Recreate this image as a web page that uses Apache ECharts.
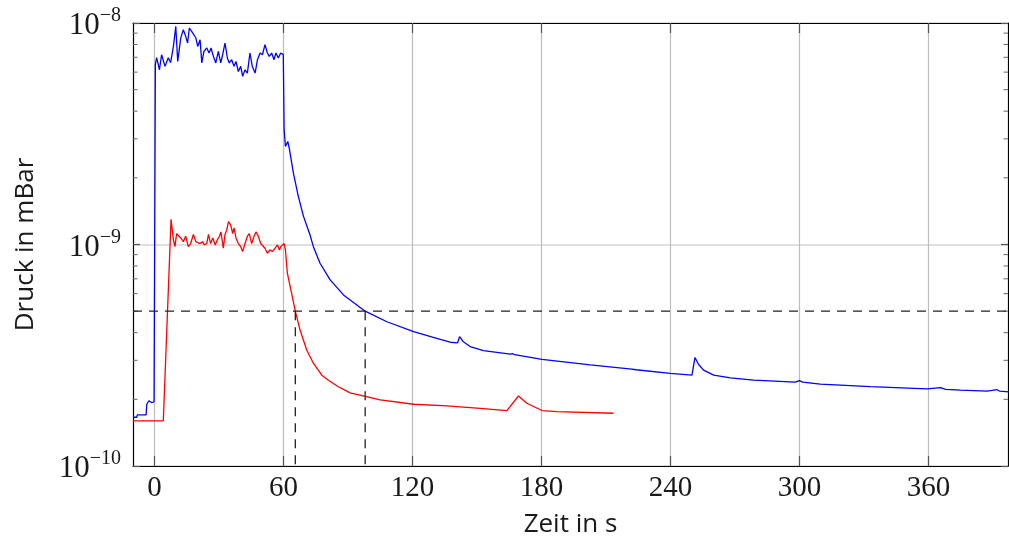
<!DOCTYPE html>
<html>
<head>
<meta charset="utf-8">
<script src="https://cdn.jsdelivr.net/npm/echarts@6/dist/echarts.min.js"></script>
<style>
  html, body { margin: 0; padding: 0; background: #ffffff; }
  #chart { width: 1009px; height: 539px; }
</style>
</head>
<body>
<div id="chart"></div>
<script>
// Pressure traces (mBar) over time (s)
const blueTime = [
  -10, -8.2, -8.0, -3.9, -3.6, -2.6, -1.2, -0.2, 0.4, 1.0,
  2.3, 3.3, 4.9, 6.4, 7.5, 8.8, 9.9, 10.8, 12.2, 13.4,
  14.5, 15.4, 16.2, 17.3, 18.1, 19.2, 20.1, 21.2, 22.0, 23.0,
  24.3, 25.4, 26.3, 27.4, 28.5, 29.7, 30.8, 31.7, 32.8, 33.9,
  34.8, 35.9, 37.0, 37.9, 39.0, 40.1, 41.0, 42.1, 43.2, 44.4,
  45.5, 46.8, 47.9, 49.1, 50.2, 51.4, 52.5, 53.4, 54.5, 55.6,
  56.5, 57.6, 58.7, 59.5, 59.9, 60.3, 60.9, 62.0, 62.8, 64.6,
  66.9, 69.3, 72.4, 73.9, 77.0, 81.7, 87.9, 98.0, 108.1, 120.5,
  131.3, 137.5, 141.0, 141.9, 143.5, 146.8, 153.0, 165.5, 166.5, 167.5,
  180.2, 202.7, 222.0, 222.8, 224.0, 239.9, 250.0, 251.4, 253.0, 255.4,
  260.1, 267.9, 278.7, 298.1, 300.0, 301.5, 309.7, 333.0, 359.4, 365.6,
  368.0, 374.9, 387.3, 391.9, 393.0, 397.4
];
const bluePressure = [
  1.66e-10, 1.66e-10, 1.70e-10, 1.70e-10, 1.90e-10, 1.97e-10, 1.93e-10, 1.95e-10, 6.5e-9, 6.97e-9,
  6.15e-9, 7.19e-9, 6.37e-9, 6.97e-9, 6.62e-9, 7.84e-9, 9.65e-9, 6.71e-9, 8.55e-9, 9.33e-9,
  8.70e-9, 8.12e-9, 9.49e-9, 9.16e-9, 9.33e-9, 8.58e-9, 7.84e-9, 8.40e-9, 6.60e-9, 7.44e-9,
  7.71e-9, 7.32e-9, 7.71e-9, 7.07e-9, 6.60e-9, 7.44e-9, 6.60e-9, 7.19e-9, 8.12e-9, 6.95e-9,
  6.60e-9, 6.83e-9, 6.37e-9, 6.71e-9, 6.04e-9, 6.37e-9, 5.74e-9, 6.15e-9, 5.94e-9, 7.32e-9,
  6.37e-9, 5.94e-9, 6.83e-9, 7.32e-9, 7.19e-9, 7.98e-9, 7.32e-9, 7.07e-9, 7.32e-9, 6.83e-9,
  7.32e-9, 6.95e-9, 7.32e-9, 7.44e-9, 7.2e-9, 3.30e-9, 2.77e-9, 2.92e-9, 2.68e-9, 2.10e-9,
  1.65e-9, 1.34e-9, 1.10e-9, 9.78e-10, 8.23e-10, 6.92e-10, 5.92e-10, 5.00e-10, 4.48e-10, 4.04e-10,
  3.77e-10, 3.62e-10, 3.60e-10, 3.84e-10, 3.65e-10, 3.46e-10, 3.32e-10, 3.20e-10, 3.22e-10, 3.18e-10,
  3.03e-10, 2.86e-10, 2.74e-10, 2.76e-10, 2.72e-10, 2.62e-10, 2.57e-10, 3.09e-10, 2.88e-10, 2.71e-10,
  2.57e-10, 2.50e-10, 2.44e-10, 2.39e-10, 2.43e-10, 2.39e-10, 2.34e-10, 2.28e-10, 2.23e-10, 2.26e-10,
  2.22e-10, 2.20e-10, 2.18e-10, 2.21e-10, 2.18e-10, 2.16e-10
];

const redTime = [
  -10, 4.1, 7.7, 8.8, 9.5, 10.3, 11.1, 12.2, 13.4, 14.5,
  15.7, 16.8, 18.1, 19.2, 20.1, 21.2, 22.3, 23.2, 24.3, 25.1,
  26.1, 27.1, 28.2, 29.2, 30.2, 30.9, 32.0, 32.8, 33.6, 34.4,
  35.4, 36.4, 37.0, 37.9, 39.0, 40.1, 41.0, 42.1, 43.2, 44.1,
  45.2, 46.3, 47.2, 48.3, 49.4, 50.3, 51.4, 52.5, 53.7, 54.8,
  56.1, 57.2, 58.1, 58.7, 59.5, 60.3, 60.9, 61.8, 65.5, 67.7,
  70.8, 73.9, 77.8, 80.9, 81.8, 85.5, 91.0, 98.0, 105.0, 120.5,
  136.0, 151.5, 163.9, 169.3, 173.2, 180.2, 187.2, 213.5
];
const redPressure = [
  1.60e-10, 1.60e-10, 1.30e-9, 1.05e-9, 9.78e-10, 1.12e-9, 1.14e-9, 1.07e-9, 1.03e-9, 1.09e-9,
  9.78e-10, 1.01e-9, 1.11e-9, 1.03e-9, 1.05e-9, 1.01e-9, 1.03e-9, 9.96e-10, 1.01e-9, 1.11e-9,
  1.01e-9, 1.07e-9, 9.96e-10, 1.05e-9, 1.09e-9, 1.14e-9, 9.62e-10, 1.11e-9, 1.16e-9, 1.27e-9,
  1.23e-9, 1.12e-9, 1.19e-9, 1.07e-9, 1.01e-9, 9.78e-10, 9.29e-10, 1.01e-9, 1.09e-9, 1.12e-9,
  1.01e-9, 1.09e-9, 1.14e-9, 1.09e-9, 1.01e-9, 1.03e-9, 9.62e-10, 9.13e-10, 9.45e-10, 9.29e-10,
  9.62e-10, 9.96e-10, 9.45e-10, 9.78e-10, 9.62e-10, 1.01e-9, 9.45e-10, 7.42e-10, 5.00e-10, 4.11e-10,
  3.34e-10, 2.91e-10, 2.57e-10, 2.44e-10, 2.40e-10, 2.28e-10, 2.14e-10, 2.06e-10, 1.99e-10, 1.90e-10,
  1.87e-10, 1.82e-10, 1.78e-10, 2.07e-10, 1.92e-10, 1.78e-10, 1.76e-10, 1.73e-10
];

// Reference level and the times at which each trace falls below it
const thresholdPressure = 5e-10;
const crossingTimes = [65.5, 98.0];

// Axis ranges and tick values
const xRange = [-10, 397];
const yRange = [1e-10, 1e-8];
const xTickValues = [0, 60, 120, 180, 240, 300, 360];
const yMinorTicks = [
  2e-10, 3e-10, 4e-10, 5e-10, 6e-10, 7e-10, 8e-10, 9e-10,
  2e-9, 3e-9, 4e-9, 5e-9, 6e-9, 7e-9, 8e-9, 9e-9
];

const zip = (a, b) => a.map((v, i) => [v, b[i]]);

const serif = 'Liberation Serif';
const sans = 'Open Sans';
const frame = { show: true, onZero: false, lineStyle: { color: '#000', width: 1.2 } };

const chart = echarts.init(document.getElementById('chart'), null, { renderer: 'canvas' });

chart.setOption({
  animation: false,
  backgroundColor: '#ffffff',
  grid: { left: 133, right: 1, top: 23, bottom: 73, containLabel: false, outerBoundsMode: 'none' },
  xAxis: [
    {
      type: 'value', min: xRange[0], max: xRange[1], position: 'bottom',
      axisLine: frame,
      axisTick: { show: true, inside: true, length: 10, customValues: xTickValues,
                  lineStyle: { color: '#555', width: 1.2 } },
      axisLabel: { show: true, customValues: xTickValues, margin: 8,
                   fontFamily: serif, fontSize: 29, color: '#1a1a1a' },
      splitLine: { show: true, lineStyle: { color: '#bdbdbd', width: 1.2 } },
      name: 'Zeit in s', nameLocation: 'middle', nameGap: 46,
      nameTextStyle: { fontFamily: sans, fontSize: 26, color: '#1a1a1a' }
    },
    {
      type: 'value', min: xRange[0], max: xRange[1], position: 'top',
      axisLine: frame,
      axisTick: { show: true, inside: true, length: 10, customValues: xTickValues,
                  lineStyle: { color: '#555', width: 1.2 } },
      axisLabel: { show: false },
      splitLine: { show: false }
    }
  ],
  yAxis: [
    {
      type: 'log', logBase: 10, min: yRange[0], max: yRange[1], position: 'left',
      axisLine: frame,
      axisTick: { show: true, inside: true, length: 7, lineStyle: { color: '#555', width: 1.2 } },
      axisLabel: {
        show: true, margin: 12,
        formatter: v => '{b|10}{s|−' + Math.abs(Math.round(Math.log10(v))) + '}',
        rich: {
          b: { fontFamily: serif, fontSize: 31, lineHeight: 34, color: '#1a1a1a', padding: [6, 0, 0, 0] },
          s: { fontFamily: serif, fontSize: 20, lineHeight: 20, verticalAlign: 'top', color: '#1a1a1a' }
        }
      },
      splitLine: { show: true, lineStyle: { color: '#d4d4d4', width: 1.6 } },
      name: 'Druck in mBar', nameLocation: 'middle', nameGap: 94, nameRotate: 90,
      nameTextStyle: { fontFamily: sans, fontSize: 26, color: '#1a1a1a' }
    },
    {
      type: 'log', logBase: 10, min: yRange[0], max: yRange[1], position: 'right',
      axisLine: frame,
      axisTick: { show: true, inside: true, length: 7, lineStyle: { color: '#555', width: 1.2 } },
      axisLabel: { show: false },
      splitLine: { show: false }
    }
  ],
  series: [
    {
      type: 'custom', name: 'minor ticks', silent: true, z: 4,
      data: yMinorTicks.map(v => [xRange[0], v]),
      renderItem: (params, api) => {
        const v = api.value(1);
        const l = api.coord([xRange[0], v]);
        const r = api.coord([xRange[1], v]);
        const style = { stroke: '#666', lineWidth: 1 };
        return {
          type: 'group',
          children: [
            { type: 'line', shape: { x1: l[0], y1: l[1], x2: l[0] + 4.5, y2: l[1] }, style },
            { type: 'line', shape: { x1: r[0], y1: r[1], x2: r[0] - 4.5, y2: r[1] }, style }
          ]
        };
      }
    },
    {
      type: 'line', name: 'blau', data: zip(blueTime, bluePressure),
      showSymbol: false, symbol: 'none', z: 3,
      lineStyle: { color: '#0000ff', width: 1.3 }
    },
    {
      type: 'line', name: 'rot', data: zip(redTime, redPressure),
      showSymbol: false, symbol: 'none', z: 3,
      lineStyle: { color: '#ff0000', width: 1.3 }
    },
    {
      type: 'line', name: 'Schwelle',
      data: [[xRange[0], thresholdPressure], [xRange[1], thresholdPressure]],
      showSymbol: false, symbol: 'none', z: 5,
      lineStyle: { color: '#222', width: 1.3, type: [9, 7] }
    },
    ...crossingTimes.map(t => ({
      type: 'line', name: 't' + t,
      data: [[t, thresholdPressure], [t, yRange[0]]],
      showSymbol: false, symbol: 'none', z: 5,
      lineStyle: { color: '#222', width: 1.3, type: [9, 7] }
    }))
  ]
});
</script>
</body>
</html>
